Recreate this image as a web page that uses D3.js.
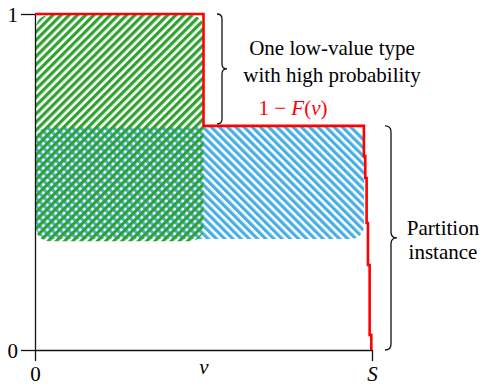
<!DOCTYPE html>
<html>
<head>
<meta charset="utf-8">
<script src="https://cdn.jsdelivr.net/npm/d3@7"></script>
<style>
  body { margin: 0; background: #fff; }
  text { font-family: "Liberation Serif", "Times New Roman", serif; }
</style>
</head>
<body>
<div id="chart"></div>
<script>
// step function 1 - F(v): break points on the v axis and the level after each
const stepBreaks = [0.5, 0.976, 0.98, 0.984, 0.988, 0.993, 0.998];
const stepLevels = [1, 0.667, 0.577, 0.512, 0.378, 0.253, 0.045, 0];

// hatched areas: [v0, v1, p0, p1]
const lowTypeArea = [0, 0.5, 0.324, 1];
const partitionArea = [0, 0.976, 0.33, 0.667];

// ticks
const yTicks = [0, 1];
const xTicks = [0, 0.5, 1];
const xTickLabels = ["0", "v", "S"];

const width = 485, height = 388;
const margin = { top: 14, right: 113, bottom: 38, left: 35 };

const svg = d3.select("#chart").append("svg")
  .attr("width", width)
  .attr("height", height);

const x = d3.scaleLinear().domain([0, 1]).range([margin.left, width - margin.right]);
const y = d3.scaleLinear().domain([0, 1]).range([height - margin.bottom, margin.top]);

// hatch patterns
const defs = svg.append("defs");
function hatch(id, color, angle) {
  const p = defs.append("pattern")
    .attr("id", id)
    .attr("patternUnits", "userSpaceOnUse")
    .attr("width", 5.8)
    .attr("height", 10)
    .attr("patternTransform", `rotate(${angle})`);
  p.append("rect")
    .attr("x", 0).attr("y", 0)
    .attr("width", 3.2).attr("height", 10)
    .attr("fill", color);
}
hatch("hatchBlue", "#47afe3", -45);
hatch("hatchGreen", "#30a22f", 45);

function area(a, fill) {
  svg.append("rect")
    .attr("x", x(a[0]) + 1)
    .attr("y", y(a[3]) + 1)
    .attr("width", x(a[1]) - x(a[0]) - 1)
    .attr("height", y(a[2]) - y(a[3]) - 1)
    .attr("rx", 13)
    .attr("fill", fill);
}
area(partitionArea, "url(#hatchBlue)");
area(lowTypeArea, "url(#hatchGreen)");

// axes
const yAxis = svg.append("g")
  .attr("transform", `translate(${margin.left},0)`)
  .call(d3.axisLeft(y).tickValues(yTicks).tickSize(14).tickSizeOuter(0).tickPadding(3).tickFormat(d3.format("d")));

const xAxis = svg.append("g")
  .attr("transform", `translate(0,${y(0)})`)
  .call(d3.axisBottom(x).tickValues(xTicks).tickSize(11).tickSizeOuter(0).tickPadding(5)
    .tickFormat((d, i) => xTickLabels[i]));

[yAxis, xAxis].forEach(g => {
  g.select(".domain").attr("stroke", "#111").attr("stroke-width", 1.3);
  g.selectAll(".tick line").attr("stroke", "#111").attr("stroke-width", 1.3);
  g.selectAll("text")
    .attr("font-family", "Liberation Serif, serif")
    .attr("font-size", 21)
    .attr("fill", "#000");
});
xAxis.selectAll(".tick").filter(d => d === 0.5).select("line").remove();
xAxis.selectAll(".tick text")
  .style("font-style", (d, i) => i > 0 ? "italic" : "normal")
  .attr("y", (d, i) => i === 1 ? 9 : 16);
yAxis.selectAll(".tick text").attr("dy", "0.35em");

// red step line
const pts = [[0, stepLevels[0]]];
stepBreaks.forEach((b, i) => {
  pts.push([b, stepLevels[i]]);
  pts.push([b, stepLevels[i + 1]]);
});
svg.append("path")
  .datum(pts)
  .attr("fill", "none")
  .attr("stroke", "#ff0000")
  .attr("stroke-width", 2.6)
  .attr("stroke-linejoin", "miter")
  .attr("d", d3.line().x(d => x(d[0])).y(d => y(d[1])));

// braces
function bracePath(bx, y0, y1, w) {
  const ym = (y0 + y1) / 2, q = w / 2;
  return `M${bx},${y0} Q${bx + q},${y0} ${bx + q},${y0 + q} L${bx + q},${ym - q} ` +
    `Q${bx + q},${ym} ${bx + w},${ym} Q${bx + q},${ym} ${bx + q},${ym + q} ` +
    `L${bx + q},${y1 - q} Q${bx + q},${y1} ${bx},${y1}`;
}
svg.append("path")
  .attr("d", bracePath(217, y(1), y(0.667) - 2, 10))
  .attr("fill", "none").attr("stroke", "#111").attr("stroke-width", 1.3);
svg.append("path")
  .attr("d", bracePath(385, y(0.667), y(0), 12))
  .attr("fill", "none").attr("stroke", "#111").attr("stroke-width", 1.3);

// labels
function label(lines, cx, by, gap) {
  lines.forEach((t, i) => {
    svg.append("text")
      .attr("x", cx).attr("y", by + i * gap)
      .attr("text-anchor", "middle")
      .attr("font-size", 21)
      .text(t);
  });
}
label(["One low-value type", "with high probability"], 332, 55, 27);
label(["Partition", "instance"], 443, 235, 24);

const fv = svg.append("text")
  .attr("x", 293).attr("y", 115)
  .attr("text-anchor", "middle")
  .attr("font-size", 21)
  .attr("fill", "#ff0000");
fv.append("tspan").text("1 \u2212 ");
fv.append("tspan").style("font-style", "italic").text("F");
fv.append("tspan").text("(");
fv.append("tspan").style("font-style", "italic").text("v");
fv.append("tspan").text(")");
</script>
</body>
</html>
